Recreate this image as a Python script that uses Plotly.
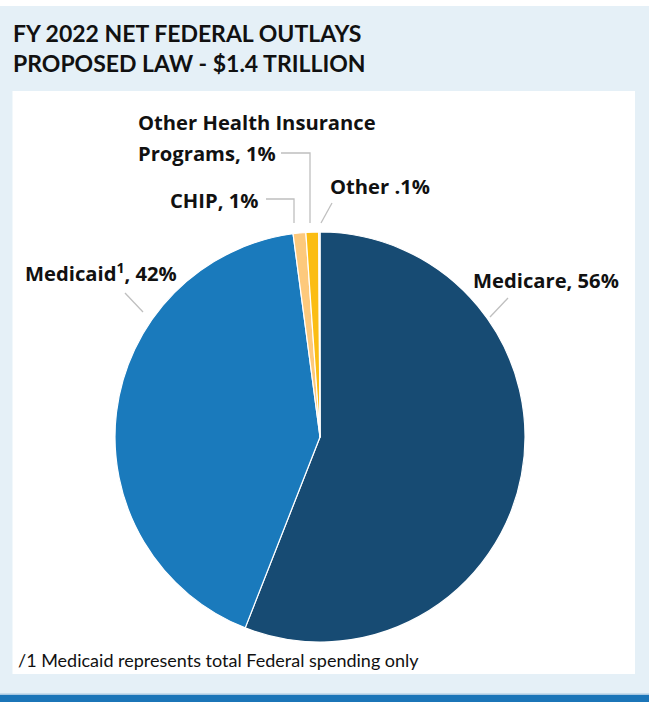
import plotly.graph_objects as go

W, H = 649, 702

# ---- data ----
categories = ["Medicare", "Medicaid", "CHIP", "Other Health Insurance Programs", "Other"]
shares = [56, 42, 1, 1, 0.1]
slice_colors = ["#174b73", "#1a7abc", "#fdc97c", "#fbbd13", "#9a9a9a"]
label_texts = [
    "Medicare, 56%",
    "Medicaid<sup>1</sup>, 42%",
    "CHIP, 1%",
    "Other Health Insurance<br>Programs, 1%",
    "Other .1%",
]

def px(x):
    return x / W

def py(y):
    return 1 - y / H

FONT = "'Open Sans', Lato, sans-serif"
TFONT = "Lato, 'Open Sans', sans-serif"
BG = "#e5f0f7"

# pie geometry (pixels)
cx, cy, r = 320, 437, 205

fig = go.Figure()
fig.add_trace(go.Pie(
    labels=categories,
    values=shares,
    sort=False,
    direction="clockwise",
    rotation=0,
    textinfo="none",
    hoverinfo="label+percent",
    marker=dict(colors=slice_colors, line=dict(color="white", width=1.2)),
    domain=dict(x=[px(cx - r), px(cx + r)], y=[py(cy + r), py(cy - r)]),
    showlegend=False,
))

shapes = [
    # top white strip
    dict(type="rect", xref="paper", yref="paper", x0=0, x1=1, y0=py(6), y1=1,
         fillcolor="white", line=dict(width=0), layer="below"),
    # white panel
    dict(type="rect", xref="paper", yref="paper", x0=px(12.5), x1=px(635), y0=py(674), y1=py(91),
         fillcolor="white", line=dict(width=0), layer="below"),
    # bottom bar
    dict(type="rect", xref="paper", yref="paper", x0=0, x1=1, y0=0, y1=py(693.5),
         fillcolor="#a8c8e2", line=dict(width=0), layer="below"),
    dict(type="rect", xref="paper", yref="paper", x0=0, x1=1, y0=0, y1=py(695),
         fillcolor="#1b75b8", line=dict(width=0), layer="below"),
]

LINE = dict(color="#bfbfbf", width=1.3)
leaders = [
    [(508, 298), (490, 317)],               # Medicare
    [(125, 293), (143, 312)],               # Medicaid
    [(266, 199), (294, 199), (294, 223)],   # CHIP
    [(281, 153), (310, 153), (310, 223)],   # Other Health Insurance
    [(332, 203), (321, 223)],               # Other
]
for pts in leaders:
    path = "M " + " L ".join(f"{px(x)},{py(y)}" for x, y in pts)
    shapes.append(dict(type="path", xref="paper", yref="paper", path=path, line=LINE))

annotations = [
    dict(text="FY 2022 NET FEDERAL OUTLAYS<br>PROPOSED LAW - $1.4 TRILLION",
         x=px(11), y=py(17), xanchor="left", yanchor="top", align="left",
         font=dict(family=TFONT, size=23, color="#111111", weight="bold"), showarrow=False),
    dict(text="/1 Medicaid represents total Federal spending only",
         x=px(16), y=py(660), xanchor="left", yanchor="middle",
         font=dict(family=TFONT, size=18, color="#111111"), showarrow=False),
]
label_pos = [
    [(471, 280)],
    [(23, 273)],
    [(168, 200)],
    [(136, 122), (136, 153)],
    [(328, 186)],
]
for txt, positions in zip(label_texts, label_pos):
    for line_txt, (x, y) in zip(txt.split("<br>"), positions):
        annotations.append(dict(
            text=line_txt, x=px(x), y=py(y), xanchor="left", yanchor="middle", align="left",
            font=dict(family=FONT, size=20.2, color="#111111", weight="bold"), showarrow=False,
        ))

fig.update_layout(
    width=W, height=H,
    margin=dict(l=0, r=0, t=0, b=0),
    paper_bgcolor=BG,
    plot_bgcolor=BG,
    shapes=shapes,
    annotations=annotations,
)

fig.write_html(
    "out.html",
    config={"displayModeBar": False},
    post_script="document.body.style.margin='0';document.body.style.padding='0';document.body.style.overflow='hidden';",
)
